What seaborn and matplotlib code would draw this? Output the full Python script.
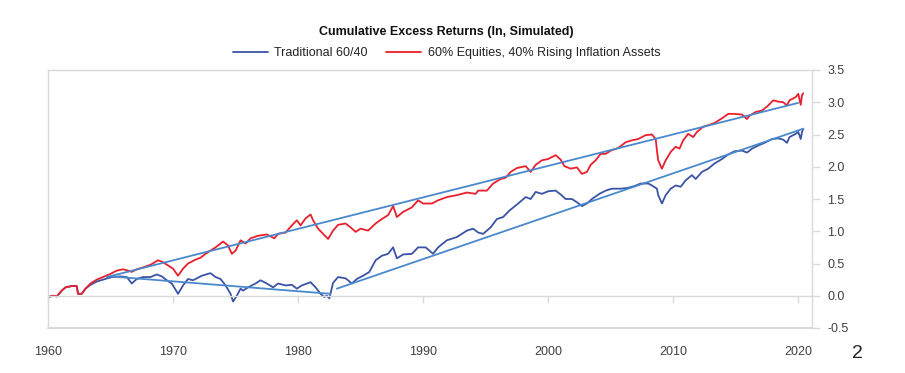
import matplotlib
matplotlib.use("Agg")
import matplotlib.pyplot as plt
import seaborn as sns
import pandas as pd

# ---------------- data ----------------
title = "Cumulative Excess Returns (In, Simulated)"
series_names = ["Traditional 60/40", "60% Equities, 40% Rising Inflation Assets"]

years_alt = [1960.0, 1960.4, 1960.7, 1961.1, 1961.4, 1961.9, 1962.3, 1962.4, 1962.7, 1963.0,
             1963.4, 1963.9, 1964.4, 1965.0, 1965.5, 1966.0, 1966.4, 1966.7, 1967.1, 1967.6,
             1968.2, 1968.8, 1969.2, 1969.6, 1970.0, 1970.4, 1970.8, 1971.2, 1971.8, 1972.2,
             1972.6, 1973.4, 1974.0, 1974.4, 1974.7, 1975.0, 1975.4, 1975.8, 1976.2, 1976.8,
             1977.5, 1978.1, 1978.4, 1979.0, 1979.5, 1979.9, 1980.2, 1980.6, 1981.0, 1981.2,
             1981.6, 1982.0, 1982.4, 1982.8, 1983.2, 1983.8, 1984.2, 1984.6, 1985.0, 1985.6,
             1986.2, 1986.7, 1987.2, 1987.6, 1987.9, 1988.4, 1989.1, 1989.6, 1990.0, 1990.7,
             1991.2, 1991.9, 1992.7, 1993.5, 1994.2, 1994.4, 1995.1, 1995.6, 1996.2, 1996.6,
             1997.0, 1997.5, 1998.2, 1998.6, 1999.0, 1999.5, 2000.0, 2000.6, 2001.0, 2001.3,
             2001.8, 2002.3, 2002.7, 2003.1, 2003.4, 2003.8, 2004.2, 2004.6, 2005.0, 2005.6,
             2006.2, 2006.7, 2007.2, 2007.8, 2008.3, 2008.6, 2008.7, 2008.8, 2009.1, 2009.4,
             2009.8, 2010.2, 2010.5, 2010.8, 2011.2, 2011.6, 2011.9, 2012.4, 2012.9, 2013.3,
             2013.9, 2014.4, 2014.9, 2015.5, 2015.9, 2016.1, 2016.6, 2017.1, 2017.6, 2018.0,
             2018.4, 2018.8, 2019.1, 2019.3, 2019.8, 2020.0, 2020.2, 2020.3, 2020.4]
values_alt = [-0.02, 0.00, -0.01, 0.08, 0.13, 0.15, 0.15, 0.03, 0.03, 0.11,
              0.19, 0.25, 0.29, 0.34, 0.39, 0.41, 0.39, 0.37, 0.41, 0.44,
              0.48, 0.55, 0.52, 0.47, 0.42, 0.31, 0.42, 0.50, 0.56, 0.59,
              0.65, 0.75, 0.84, 0.78, 0.65, 0.70, 0.86, 0.81, 0.89, 0.93,
              0.95, 0.89, 0.96, 0.98, 1.09, 1.17, 1.09, 1.20, 1.26, 1.17,
              1.04, 0.96, 0.88, 1.01, 1.10, 1.12, 1.06, 0.99, 1.04, 1.01,
              1.12, 1.19, 1.25, 1.39, 1.22, 1.30, 1.37, 1.48, 1.43, 1.43,
              1.48, 1.53, 1.56, 1.60, 1.58, 1.63, 1.63, 1.74, 1.81, 1.83,
              1.92, 1.98, 2.01, 1.92, 2.03, 2.10, 2.12, 2.18, 2.11, 2.01,
              1.97, 1.99, 1.89, 1.92, 2.03, 2.10, 2.20, 2.20, 2.25, 2.29,
              2.38, 2.41, 2.43, 2.49, 2.50, 2.43, 2.25, 2.10, 1.97, 2.10,
              2.23, 2.31, 2.28, 2.41, 2.51, 2.46, 2.54, 2.62, 2.65, 2.68,
              2.75, 2.82, 2.82, 2.81, 2.74, 2.79, 2.85, 2.87, 2.95, 3.03,
              3.01, 3.00, 2.95, 3.03, 3.08, 3.13, 2.96, 3.11, 3.14]

years_trad = [1960.0, 1960.4, 1960.7, 1961.1, 1961.4, 1961.9, 1962.3, 1962.4, 1962.7, 1963.0,
              1963.4, 1963.9, 1964.4, 1965.1, 1965.8, 1966.3, 1966.7, 1967.1, 1967.6, 1968.2,
              1968.7, 1969.1, 1969.5, 1969.9, 1970.4, 1970.8, 1971.2, 1971.6, 1971.8, 1972.3,
              1972.8, 1973.0, 1973.4, 1973.8, 1974.2, 1974.6, 1974.8, 1975.1, 1975.4, 1975.6,
              1976.0, 1976.6, 1977.0, 1977.5, 1978.0, 1978.4, 1979.0, 1979.5, 1979.9, 1980.3,
              1981.0, 1981.4, 1981.8, 1982.1, 1982.3, 1982.5, 1982.8, 1983.2, 1983.8, 1984.3,
              1984.7, 1985.2, 1985.7, 1986.2, 1986.7, 1987.2, 1987.6, 1987.9, 1988.4, 1989.1,
              1989.6, 1990.2, 1990.8, 1991.2, 1991.9, 1992.7, 1993.5, 1994.0, 1994.4, 1994.8,
              1995.4, 1995.9, 1996.4, 1996.9, 1997.6, 1998.2, 1998.6, 1999.0, 1999.5, 2000.0,
              2000.6, 2001.0, 2001.4, 2001.9, 2002.3, 2002.7, 2003.1, 2003.5, 2004.1, 2004.6,
              2005.1, 2005.8, 2006.3, 2006.9, 2007.4, 2008.0, 2008.3, 2008.7, 2008.8, 2009.1,
              2009.4, 2009.8, 2010.2, 2010.6, 2011.0, 2011.5, 2011.8, 2012.3, 2012.8, 2013.3,
              2013.9, 2014.4, 2014.9, 2015.5, 2015.9, 2016.3, 2016.8, 2017.3, 2017.9, 2018.4,
              2018.8, 2019.1, 2019.3, 2019.8, 2020.0, 2020.2, 2020.3, 2020.4]
values_trad = [-0.02, 0.00, -0.01, 0.08, 0.13, 0.15, 0.15, 0.03, 0.03, 0.11,
               0.17, 0.22, 0.25, 0.29, 0.30, 0.29, 0.19, 0.26, 0.29, 0.29,
               0.33, 0.30, 0.24, 0.19, 0.03, 0.16, 0.26, 0.24, 0.26, 0.31,
               0.34, 0.35, 0.29, 0.26, 0.16, 0.03, -0.09, 0.00, 0.11, 0.08,
               0.13, 0.19, 0.24, 0.19, 0.13, 0.19, 0.16, 0.17, 0.11, 0.16,
               0.21, 0.13, 0.03, -0.02, 0.00, -0.04, 0.20, 0.29, 0.27, 0.19,
               0.26, 0.31, 0.37, 0.55, 0.62, 0.65, 0.75, 0.58, 0.64, 0.65,
               0.75, 0.75, 0.65, 0.75, 0.86, 0.91, 1.01, 1.04, 0.98, 0.96,
               1.06, 1.19, 1.22, 1.32, 1.43, 1.53, 1.50, 1.61, 1.58, 1.62,
               1.63, 1.57, 1.50, 1.50, 1.45, 1.39, 1.43, 1.50, 1.58, 1.63,
               1.66, 1.66, 1.67, 1.70, 1.74, 1.74, 1.71, 1.66, 1.56, 1.43,
               1.56, 1.66, 1.71, 1.69, 1.79, 1.87, 1.81, 1.92, 1.97, 2.05,
               2.12, 2.19, 2.24, 2.25, 2.22, 2.28, 2.33, 2.37, 2.43, 2.44,
               2.42, 2.37, 2.46, 2.51, 2.54, 2.43, 2.54, 2.59]

# trend lines drawn on the chart (start / end points)
trend_upper_x = [1964.7, 2020.0]
trend_upper_y = [0.29, 2.99]
trend_down_x = [1965.0, 1982.6]
trend_down_y = [0.30, 0.03]
trend_up_x = [1983.1, 2020.4]
trend_up_y = [0.11, 2.59]

x_ticks = [1960, 1970, 1980, 1990, 2000, 2010, 2020]
y_ticks = [-0.5, 0.0, 0.5, 1.0, 1.5, 2.0, 2.5, 3.0, 3.5]
page_number = "2"

# ---------------- styling ----------------
sns.set_theme(style="white")
plt.rcParams["font.family"] = ["Liberation Sans", "DejaVu Sans"]

col_trad = "#3a53a4"
col_alt = "#e8202d"
col_trend = "#4a88cc"
col_axis = "#d9d9d9"
col_text = "#404040"

fig = plt.figure(figsize=(9.05, 3.73), dpi=100)
ax = fig.add_axes([48 / 905, 45 / 373, 764 / 905, 258 / 373])

df = pd.concat([
    pd.DataFrame({"year": years_trad, "value": values_trad, "series": series_names[0]}),
    pd.DataFrame({"year": years_alt, "value": values_alt, "series": series_names[1]}),
])

sns.lineplot(data=df, x="year", y="value", hue="series", hue_order=series_names,
             palette=[col_trad, col_alt], estimator=None, sort=False,
             linewidth=1.3, ax=ax)

for tx, ty in [(trend_upper_x, trend_upper_y), (trend_down_x, trend_down_y), (trend_up_x, trend_up_y)]:
    sns.lineplot(x=tx, y=ty, color=col_trend, linewidth=1.3, ax=ax, legend=False, zorder=5)

ax.set_xlim(1960, 2021.1)
ax.set_ylim(-0.5, 3.5)
ax.set_xlabel("")
ax.set_ylabel("")

# spines
for s in ["left", "top", "right"]:
    ax.spines[s].set_visible(True)
    ax.spines[s].set_color(col_axis)
    ax.spines[s].set_linewidth(1.0)
ax.spines["bottom"].set_position(("data", 0))
ax.spines["bottom"].set_color(col_axis)
ax.spines["bottom"].set_linewidth(1.0)
ax.axhline(-0.5, color=col_axis, linewidth=1.5, clip_on=False, zorder=0)

ax.set_xticks(x_ticks)
ax.set_xticklabels([str(t) for t in x_ticks])
ax.tick_params(axis="x", direction="out", length=5, width=1, color=col_axis,
               labelcolor=col_text, labelsize=9, pad=31, bottom=True)

ax.yaxis.tick_right()
ax.set_yticks(y_ticks)
ax.set_yticklabels([f"{t:.1f}" for t in y_ticks])
ax.tick_params(axis="y", direction="out", length=6, width=1, color=col_axis,
               labelcolor=col_text, labelsize=9, pad=5, right=True, left=False)

# legend
handles, labels = ax.get_legend_handles_labels()
ax.legend(handles[:2], labels[:2], loc="center", bbox_to_anchor=(0.5216, 1.066),
          ncol=2, frameon=False, fontsize=9, handlelength=2.8, handletextpad=0.5,
          columnspacing=1.5, labelcolor="#222222")

fig.text(446 / 905, 1 - 32 / 373, title, ha="center", va="center",
         fontsize=9, fontweight="bold", color="#111111")
fig.text(857 / 905, 1 - 353 / 373, page_number, ha="center", va="center",
         fontsize=14, color="#222222")

fig.savefig("out.png", dpi=100)
